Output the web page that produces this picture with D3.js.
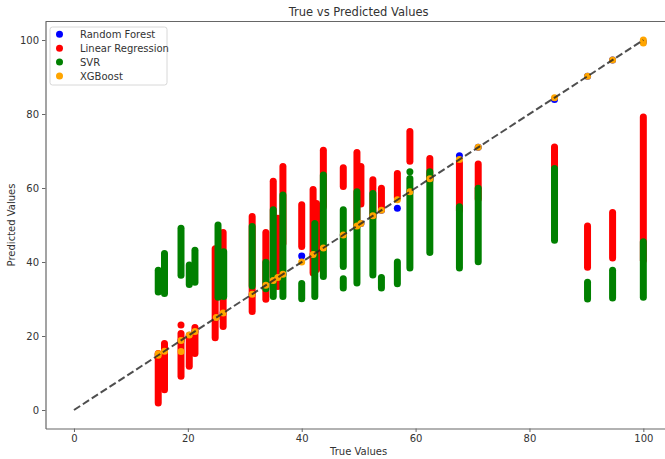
<!DOCTYPE html>
<html><head><meta charset="utf-8">
<script src="https://cdn.jsdelivr.net/npm/d3@7"></script>
<style>
html,body{margin:0;padding:0;background:#fff;overflow:hidden;}
text{font-family:"DejaVu Sans",sans-serif;fill:#333;}
</style></head>
<body><svg id="chart" width="665" height="459"></svg>
<script>
// ---- data (true value, lowest prediction, highest prediction) ----
const xTicks = [0, 20, 40, 60, 80, 100];
const yTicks = [0, 20, 40, 60, 80, 100];
const seriesNames = ["Random Forest", "Linear Regression", "SVR", "XGBoost"];
const seriesColors = ["blue", "red", "green", "orange"];

const rfSegments = [
  [14.8,15,15],[15.9,16,16],[18.8,18.8,18.8],[20.25,20.2,20.2],[21.25,21.2,21.2],
  [25.0,25,25],[26.2,26.2,26.2],[31.3,31.3,31.3],[33.7,33.7,33.7],[35.0,35,35],
  [35.8,35.8,35.8],[36.7,36.7,36.7],[40.0,41.6,41.6],[42.0,42,42],[43.8,43.8,43.8],
  [47.3,47.3,47.3],[49.7,49.7,49.7],[50.4,50.4,50.4],[52.5,52.5,52.5],[54.0,54,54],
  [56.8,54.5,54.5],[59.0,59,59],[62.5,62.5,62.5],[67.7,68.7,68.7],[71.0,71,71],
  [84.4,83.9,83.9],[90.2,90.2,90.2],[94.6,94.6,94.6],[100,99.5,99.5]
];
const lrSegments = [
  [14.8,1.9,15.3],[15.9,5.5,18.0],[18.8,9.1,20.7],[18.8,23.0,23.0],[20.25,11.8,19.9],
  [21.25,15.3,22.3],[24.8,19.5,43.6],[26.2,22.6,48.0],[31.3,26.6,52.3],[33.7,29.9,48.0],
  [35.0,36,61.8],[35.8,33.4,51.8],[36.7,45,65.8],[40.0,44.2,55.5],[42.0,37,59.6],
  [42.6,38,55.8],[43.8,55,70.2],[47.3,60.4,65.5],[49.7,50,69.6],[50.4,55.7,65.8],
  [52.5,52,62.2],[54.0,54.1,59.9],[56.8,57.3,63.9],[59.0,67.2,75.3],[62.5,62,68],
  [67.7,54,66.8],[71.0,57,66.5],[84.4,57,71.1],[90.2,38.6,49.7],[94.6,41.1,53.4],
  [100,40.5,79.2]
];
const svrSegments = [
  [14.8,31.9,37.8],[15.9,31.5,42.3],[18.8,36.4,49.1],[20.25,33.9,39.2],[21.25,34.5,43.2],
  [25.3,30.5,50.0],[26.3,30.7,42.8],[31.3,33.5,49.6],[33.7,32.8,39.9],[35.0,30.7,54.1],
  [36.7,30.7,58.1],[40.0,30.1,34.2],[42.3,30.7,50.4],[43.8,36.1,63.5],[47.3,38.8,54.1],
  [47.3,33.0,35.5],[49.7,34.3,59.0],[52.5,36.5,58.5],[54.0,33.0,35.8],[56.8,34.1,40.0],
  [59.0,38.4,62.6],[59.0,64.4,64.4],[62.5,42.6,64.4],[67.7,38.4,54.9],[71.0,40.1,59.9],
  [84.4,45.9,65.3],[90.2,30.0,34.5],[94.6,30.3,37.8],[100,30.5,45.5]
];
const xgbSegments = [
  [14.8,14.8,15.2],[15.9,15.9,15.9],[18.8,18.8,18.8],[18.8,15.8,15.8],[20.25,20.25,20.25],
  [21.25,21.25,21.25],[25.0,25.0,25.0],[26.2,26.2,26.2],[31.3,31.3,31.3],[33.7,33.7,33.7],
  [35.0,35.0,35.0],[35.8,35.8,35.8],[36.7,36.7,36.7],[40.0,40.0,40.0],[42.0,42.0,42.0],
  [43.8,43.8,43.8],[47.3,47.3,47.3],[49.7,49.7,49.7],[50.4,50.4,50.4],[52.5,52.5,52.5],
  [54.0,54.0,54.0],[56.8,56.8,56.8],[59.0,59.0,59.0],[62.5,62.5,62.5],[67.7,67.7,67.7],
  [71.0,71.0,71.0],[84.4,84.4,84.4],[90.2,90.2,90.2],[94.6,94.6,94.6],[100,99.2,100]
];
const diagonal = [[0,0],[100,100]];

// ---- drawing ----
const svg = d3.select("#chart");
const x = d3.scaleLinear().domain([-5,105]).range([45.5, 671.8]);
const y = d3.scaleLinear().domain([-5,105]).range([428.5, 21.5]);

const plot = svg.append("g");
const allSeries = [rfSegments, lrSegments, svrSegments, xgbSegments];
allSeries.forEach((segs, i) => {
  plot.append("g").selectAll("line").data(segs).join("line")
    .attr("x1", d => x(d[0])).attr("x2", d => x(d[0]))
    .attr("y1", d => y(d[1])).attr("y2", d => y(d[2]))
    .attr("stroke", seriesColors[i])
    .attr("stroke-width", 7)
    .attr("stroke-linecap", "round");
});

plot.append("path")
  .attr("d", d3.line().x(d => x(d[0])).y(d => y(d[1]))(diagonal))
  .attr("fill", "none").attr("stroke", "#222").attr("stroke-opacity", 0.8)
  .attr("stroke-width", 2).attr("stroke-dasharray", "7.4,3.2");

// axes
const xAxis = svg.append("g").attr("transform", "translate(0,428.5)")
  .call(d3.axisBottom(x).tickValues(xTicks).tickSize(3.5).tickSizeOuter(0).tickPadding(3).tickFormat(d3.format("d")));
const yAxis = svg.append("g").attr("transform", "translate(45.5,0)")
  .call(d3.axisLeft(y).tickValues(yTicks).tickSize(3.5).tickSizeOuter(0).tickPadding(3).tickFormat(d3.format("d")));
[xAxis, yAxis].forEach(a => {
  a.select(".domain").attr("stroke", "#666").attr("stroke-width", 1.2);
  a.selectAll(".tick line").attr("stroke", "#666");
  a.selectAll(".tick text").attr("font-size", 10).attr("fill", "#333")
    .attr("font-family", "DejaVu Sans, sans-serif");
});
// top and right spines
svg.append("line").attr("x1", x(-5)).attr("x2", x(105)).attr("y1", y(105)).attr("y2", y(105))
  .attr("stroke", "#666").attr("stroke-width", 1.2);
svg.append("line").attr("x1", x(105)).attr("x2", x(105)).attr("y1", y(105)).attr("y2", y(-5))
  .attr("stroke", "#666").attr("stroke-width", 1.2);

// titles
svg.append("text").attr("x", (x(-5)+x(105))/2).attr("y", 16).attr("text-anchor", "middle")
  .attr("font-size", 11.5).text("True vs Predicted Values");
svg.append("text").attr("x", (x(-5)+x(105))/2).attr("y", 455).attr("text-anchor", "middle")
  .attr("font-size", 10).text("True Values");
svg.append("text").attr("transform", `translate(15,${(y(-5)+y(105))/2}) rotate(-90)`)
  .attr("text-anchor", "middle").attr("font-size", 10).text("Predicted Values");

// legend
const lg = svg.append("g");
lg.append("rect").attr("x", 50).attr("y", 27).attr("width", 117).attr("height", 58)
  .attr("rx", 2.5).attr("fill", "#fff").attr("fill-opacity", 0.8)
  .attr("stroke", "#d8d8d8").attr("stroke-width", 1);
seriesNames.forEach((name, i) => {
  const yy = 34.3 + i * 13.9;
  lg.append("circle").attr("cx", 59.5).attr("cy", yy).attr("r", 3.5).attr("fill", seriesColors[i]);
  lg.append("text").attr("x", 80).attr("y", yy + 3.6).attr("font-size", 10).text(name);
});
</script></body></html>
